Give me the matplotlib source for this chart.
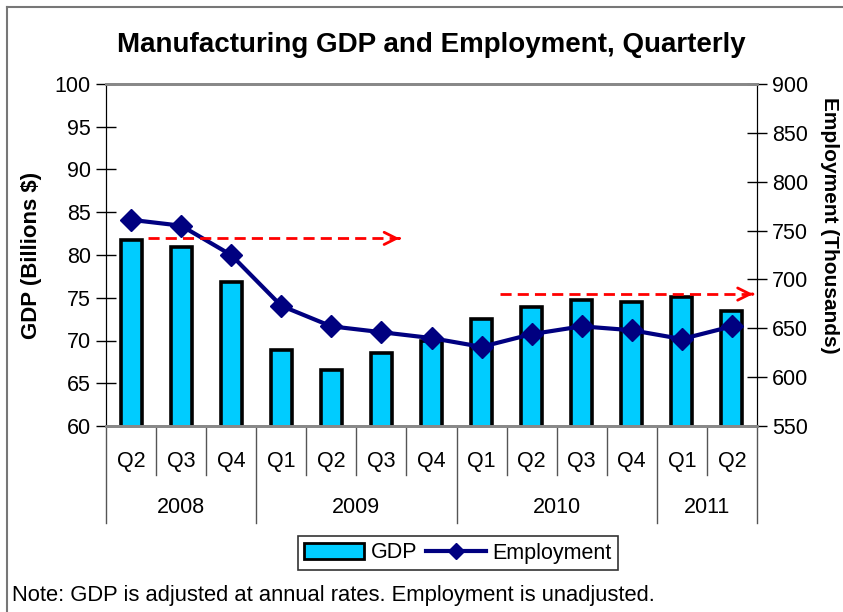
import numpy as np
import matplotlib
matplotlib.use('Agg')
import matplotlib.pyplot as plt
from matplotlib.lines import Line2D
from matplotlib.patches import Patch
import matplotlib.transforms as mtransforms

plt.rcParams['font.family'] = ['Liberation Sans', 'DejaVu Sans']

quarters = ['Q2', 'Q3', 'Q4', 'Q1', 'Q2', 'Q3', 'Q4', 'Q1', 'Q2', 'Q3', 'Q4', 'Q1', 'Q2']
years = ['2008', '2009', '2010', '2011']
year_counts = [3, 4, 4, 2]
gdp = [81.8, 80.9, 76.8, 68.9, 66.6, 68.5, 69.9, 72.5, 73.9, 74.7, 74.5, 75.1, 73.5]
employment = [761, 755, 725, 673, 652, 646, 640, 631, 644, 652, 648, 639, 652]
# red reference arrows: (start, end) in category index, level in thousands
arrow_spans = [(0.34, 5.36), (7.37, 12.42)]
arrow_levels = [742, 685]

fig = plt.figure(figsize=(8.43, 6.12), dpi=100)
ax = fig.add_axes([106 / 843, 1 - 426 / 612, 651 / 843, 342 / 612])
ax2 = ax.twinx()

x = np.arange(len(gdp))
ax.bar(x, gdp, width=0.42, color='#00CCFF', edgecolor='black', linewidth=2.6, zorder=2)
ax.set_xlim(-0.5, len(gdp) - 0.5)
ax.set_ylim(60, 100)
ax.set_yticks(np.arange(60, 101, 5))

ax2.plot(x, employment, color='#000080', lw=3, marker='D', markersize=11, zorder=3)
ax2.set_ylim(550, 900)
ax2.set_yticks(np.arange(550, 901, 50))

for (x0, x1), lvl in zip(arrow_spans, arrow_levels):
    ax2.plot([x0, x1 - 0.05], [lvl, lvl], color='red', lw=2, ls=(0, (4, 2.2)), zorder=4)
    ax2.annotate('', xy=(x1, lvl), xytext=(x1 - 0.06, lvl),
                 arrowprops=dict(arrowstyle='->', color='red', lw=2, mutation_scale=22))

for a in (ax, ax2):
    a.tick_params(axis='y', direction='inout', length=14, width=1, labelsize=15.5, pad=4)
    a.spines['top'].set_color('#888888')
    a.spines['bottom'].set_color('#888888')
    a.spines['top'].set_linewidth(2)
    a.spines['bottom'].set_linewidth(2)
ax.set_xticks([])

ax.set_ylabel('GDP (Billions $)', fontsize=16, fontweight='bold', labelpad=9)
fig.text(830 / 843, 1 - 225 / 612, 'Employment (Thousands)', rotation=270,
         fontsize=15, fontweight='bold', ha='center', va='center')

# category axis: quarter labels, year labels and separators
trans = mtransforms.blended_transform_factory(ax.transData, ax.transAxes)
for i, q in enumerate(quarters):
    ax.text(i, -0.105, q, transform=trans, ha='center', va='center', fontsize=15.5)
bounds = np.cumsum([0] + year_counts) - 0.5
for i in range(len(quarters) + 1):
    b = i - 0.5
    low = -0.284 if b in bounds else -0.143
    ax.plot([b, b], [0, low], transform=trans, color='#555555', lw=1, clip_on=False)
for k, yr in enumerate(years):
    ax.text((bounds[k] + bounds[k + 1]) / 2, -0.237, yr, transform=trans,
            ha='center', va='center', fontsize=15.5)

fig.text(431 / 843, 1 - 45 / 612, 'Manufacturing GDP and Employment, Quarterly',
         ha='center', va='center', fontsize=20, fontweight='bold')

handles = [Patch(facecolor='#00CCFF', edgecolor='black', linewidth=2),
           Line2D([], [], color='#000080', lw=3, marker='D', markersize=8)]
leg = fig.legend(handles, ['GDP', 'Employment'], loc='center',
                 bbox_to_anchor=(458 / 843, 1 - 553 / 612), ncol=2, fontsize=15.5,
                 frameon=True, fancybox=False, edgecolor='black', handlelength=2.8,
                 handletextpad=0.3, columnspacing=0.4, borderpad=0.3)
leg.get_frame().set_linewidth(1.2)

fig.text(12 / 843, 1 - 596 / 612,
         'Note: GDP is adjusted at annual rates. Employment is unadjusted.',
         ha='left', va='center', fontsize=15.8)

fig.add_artist(Line2D([7 / 843, 7 / 843], [0, 1 - 7 / 612], color='#777777', lw=1.5))
fig.add_artist(Line2D([7 / 843, 1], [1 - 7 / 612, 1 - 7 / 612], color='#777777', lw=1.5))

fig.savefig('out.png', dpi=100)
